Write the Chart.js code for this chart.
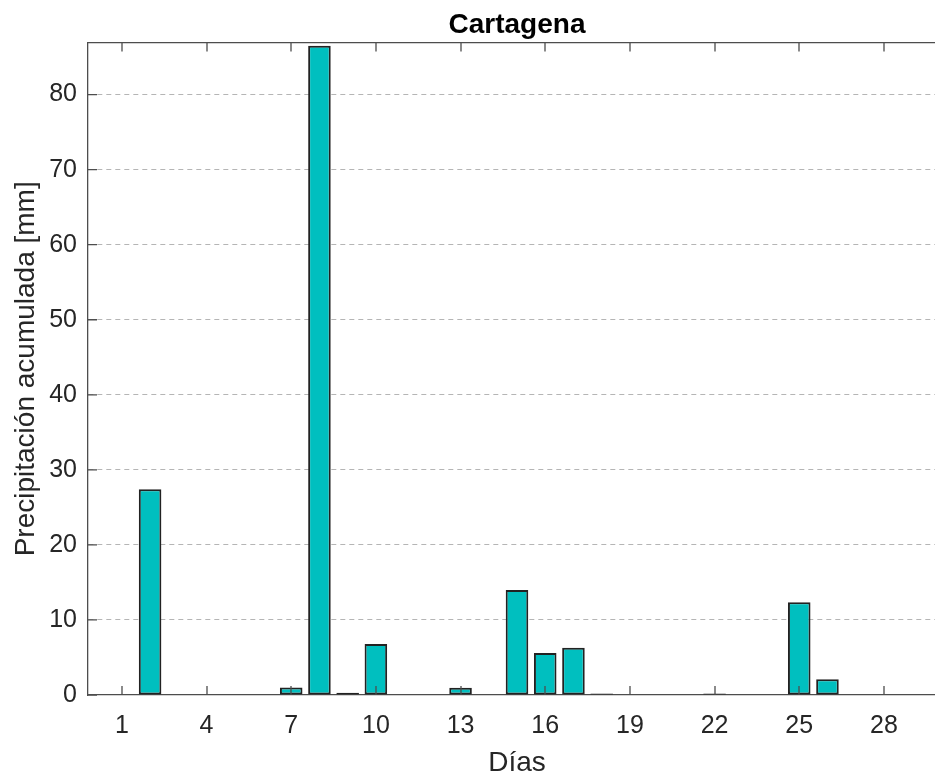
<!DOCTYPE html>
<html>
<head>
<meta charset="utf-8">
<script src="https://cdn.jsdelivr.net/npm/chart.js@4"></script>
<style>
  html, body { margin: 0; padding: 0; background: #fff; overflow: hidden; }
</style>
</head>
<body>
<canvas id="chart" width="960" height="774"></canvas>
<script>
// daily accumulated rainfall, Cartagena
const dias = [1, 2, 3, 4, 5, 6, 7, 8, 9, 10, 11, 12, 13, 14, 15, 16, 17, 18, 19, 20, 21, 22, 23, 24, 25, 26, 27, 28, 29, 30];
const precip = [0, 27.4, 0, 0, 0, 0, 1.0, 86.5, 0.3, 6.8, 0, 0, 0.95, 0, 14.0, 5.6, 6.3, 0.2, 0, 0, 0, 0.2, 0, 0, 12.35, 2.1, 0, 0, 0, 0];
const xTicks = [1, 4, 7, 10, 13, 16, 19, 22, 25, 28];
const yTicks = [0, 10, 20, 30, 40, 50, 60, 70, 80];

const FONT = 'Liberation Sans, Arial, sans-serif';
const axisColor = '#4d4d4d';
const textColor = '#262626';

// matlab style: ticks point inwards, box line on top
const innerTicks = {
  id: 'innerTicks',
  afterDatasetsDraw(chart) {
    const { ctx, chartArea: a, scales: { x, y } } = chart;
    ctx.save();
    ctx.strokeStyle = axisColor;
    ctx.lineWidth = 1.3;
    ctx.beginPath();
    ctx.moveTo(a.left, a.top);
    ctx.lineTo(a.right, a.top);
    xTicks.forEach(v => {
      const px = Math.round(x.getPixelForValue(v));
      ctx.moveTo(px, a.bottom);
      ctx.lineTo(px, a.bottom - 9);
      ctx.moveTo(px, a.top);
      ctx.lineTo(px, a.top + 9);
    });
    yTicks.forEach(v => {
      const py = y.getPixelForValue(v);
      ctx.moveTo(a.left, py);
      ctx.lineTo(a.left + 9, py);
    });
    ctx.stroke();
    ctx.restore();
  }
};

const ctx = document.getElementById('chart').getContext('2d');
new Chart(ctx, {
  type: 'bar',
  data: {
    datasets: [{
      data: dias.map((d, i) => ({ x: d, y: precip[i] > 0 ? precip[i] : null })),
      backgroundColor: '#00bfbf',
      borderColor: '#222222',
      borderWidth: 2,
      borderSkipped: false,
      barPercentage: 0.8,
      categoryPercentage: 1
    }]
  },
  options: {
    responsive: false,
    animation: false,
    layout: { padding: { left: 0, right: 14, top: 0, bottom: 0 } },
    plugins: {
      legend: { display: false },
      tooltip: { enabled: false },
      title: {
        display: true,
        text: 'Cartagena',
        fullSize: false,
        color: '#000',
        font: { family: FONT, size: 28, weight: 'bold', lineHeight: 1.2 },
        padding: { top: 8, bottom: 1 }
      }
    },
    scales: {
      x: {
        type: 'linear',
        offset: false,
        min: -0.2,
        max: 30.2,
        afterBuildTicks: s => { s.ticks = xTicks.map(v => ({ value: v })); },
        afterFit: s => { s.height = 79; },
        grid: { display: false, offset: false },
        border: { display: true, color: axisColor, width: 1.3 },
        ticks: {
          color: textColor,
          font: { family: FONT, size: 25 },
          padding: 8,
          maxRotation: 0,
          autoSkip: false
        },
        title: {
          display: true,
          text: 'Días',
          color: textColor,
          font: { family: FONT, size: 28, lineHeight: 0.8 },
          padding: 0
        }
      },
      y: {
        min: 0,
        max: 86.93,
        afterBuildTicks: s => { s.ticks = yTicks.map(v => ({ value: v })); },
        afterFit: s => { s.width = 88; },
        grid: {
          color: c => (c.tick && c.tick.value === 0 ? 'rgba(0,0,0,0)' : '#b5b5b5'),
          lineWidth: 1,
          drawTicks: false
        },
        border: { display: true, color: axisColor, width: 1.3, dash: [5, 4] },
        ticks: {
          color: textColor,
          font: { family: FONT, size: 25 },
          padding: 11
        },
        title: {
          display: true,
          text: 'Precipitación acumulada [mm]',
          color: textColor,
          font: { family: FONT, size: 28, lineHeight: 1.2 },
          padding: { top: 9, bottom: 0 }
        }
      }
    }
  },
  plugins: [innerTicks]
});
</script>
</body>
</html>
